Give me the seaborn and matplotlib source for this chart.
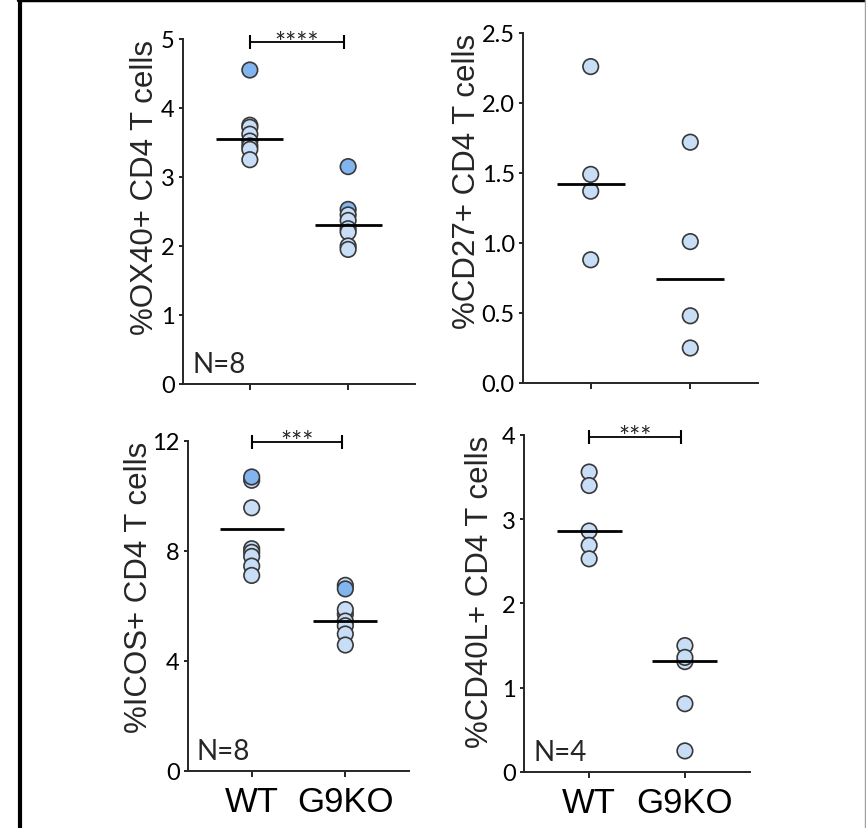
import matplotlib
matplotlib.use("Agg")
import matplotlib.pyplot as plt
from matplotlib.lines import Line2D
import pandas as pd
import seaborn as sns

# groups shown on every panel
groups = ["WT", "G9KO"]

# %OX40+ CD4 T cells (N=8)
ox40_wt = [4.55, 3.75, 3.72, 3.62, 3.52, 3.45, 3.40, 3.25]
ox40_wt_shade = ["dark", "light", "light", "light", "light", "light", "light", "light"]
ox40_ko = [3.15, 2.53, 2.45, 2.37, 2.25, 2.20, 2.00, 1.95]
ox40_ko_shade = ["dark", "dark", "light", "light", "light", "light", "light", "light"]
ox40_lines = [3.55, 2.30]

# %CD27+ CD4 T cells
cd27_wt = [2.26, 1.49, 1.37, 0.88]
cd27_wt_shade = ["light"] * 4
cd27_ko = [1.72, 1.01, 0.48, 0.25]
cd27_ko_shade = ["light"] * 4
cd27_lines = [1.42, 0.74]

# %ICOS+ CD4 T cells (N=8)
icos_wt = [10.57, 10.69, 9.57, 8.08, 7.95, 7.80, 7.45, 7.11]
icos_wt_shade = ["light", "dark", "light", "light", "light", "light", "light", "light"]
icos_ko = [6.75, 6.62, 5.70, 5.87, 5.45, 5.28, 4.98, 4.58]
icos_ko_shade = ["light", "dark", "dark", "light", "light", "light", "light", "light"]
icos_lines = [8.78, 5.47]

# %CD40L+ CD4 T cells (N=4)
cd40l_wt = [3.56, 3.40, 2.86, 2.69, 2.53]
cd40l_wt_shade = ["light"] * 5
cd40l_ko = [1.50, 1.31, 1.36, 0.81, 0.25]
cd40l_ko_shade = ["light"] * 5
cd40l_lines = [2.86, 1.32]

panel_labels = ["%OX40+ CD4 T cells", "%CD27+ CD4 T cells",
                "%ICOS+ CD4 T cells", "%CD40L+ CD4 T cells"]
panel_yticks = [[0, 1, 2, 3, 4, 5], [0.0, 0.5, 1.0, 1.5, 2.0, 2.5],
                [0, 4, 8, 12], [0, 1, 2, 3, 4]]
panel_stars = ["****", None, "***", "***"]
panel_n = ["N=8", None, "N=8", "N=4"]

shade_colors = {"light": "#c8ddf6", "dark": "#82b5f0"}

sns.set_style("ticks")
plt.rcParams["font.family"] = ["Lato", "DejaVu Sans"]
plt.rcParams["axes.linewidth"] = 1.4
label_font = ["Liberation Sans", "DejaVu Sans"]

fig = plt.figure(figsize=(8.66, 8.29), dpi=100)

# axes boxes [left, bottom, width, height] in figure fraction
boxes = [[0.2113, 0.5356, 0.2679, 0.4162],
         [0.6039, 0.5368, 0.2714, 0.4222],
         [0.2171, 0.0688, 0.2552, 0.3981],
         [0.6051, 0.0676, 0.2610, 0.4065]]
label_x = [-0.10, -0.175, -0.155, -0.13]
bar_y = [4.95, 11.96, 3.98]

data = [
    (ox40_wt, ox40_wt_shade, ox40_ko, ox40_ko_shade, ox40_lines),
    (cd27_wt, cd27_wt_shade, cd27_ko, cd27_ko_shade, cd27_lines),
    (icos_wt, icos_wt_shade, icos_ko, icos_ko_shade, icos_lines),
    (cd40l_wt, cd40l_wt_shade, cd40l_ko, cd40l_ko_shade, cd40l_lines),
]

star_i = 0
for i, (wt, wt_sh, ko, ko_sh, lines) in enumerate(data):
    ax = fig.add_axes(boxes[i])
    df = pd.DataFrame({
        "group": [groups[0]] * len(wt) + [groups[1]] * len(ko),
        "value": wt + ko,
        "shade": wt_sh + ko_sh,
    })
    sns.scatterplot(data=df, x="group", y="value", hue="shade",
                    palette=shade_colors, s=125, edgecolor="#383838",
                    linewidth=1.2, legend=False, ax=ax, zorder=3, clip_on=False)

    # centre lines
    for j, v in enumerate(lines):
        ax.hlines(v, j - 0.34, j + 0.34, color="black", lw=2.0, zorder=4)

    yt = panel_yticks[i]
    ax.set_yticks(yt)
    ax.set_ylim(yt[0], yt[-1])
    ax.set_xlim(-0.68, 1.68)
    ax.set_xticks([0, 1])
    ax.set_xlabel("")
    ax.set_ylabel(panel_labels[i], fontsize=22.5, family=label_font, loc="top")
    ax.yaxis.set_label_coords(label_x[i], 1.0)
    ax.tick_params(axis="y", labelsize=17, length=3, width=1.2, pad=3, colors="black")
    ax.tick_params(axis="x", length=4, width=1.2, pad=6, colors="black")
    if i < 2:
        ax.tick_params(axis="x", labelbottom=False)
    else:
        ax.set_xticklabels(groups, fontsize=25, family=label_font)
    sns.despine(ax=ax)

    if panel_stars[i] is not None:
        y = bar_y[star_i]
        star_i += 1
        ax.plot([0, 0.96], [y, y], color="black", lw=1.3, marker="|",
                markersize=9.5, mew=1.5, clip_on=False, zorder=5)
        ax.annotate(panel_stars[i], xy=(0.48, y), xytext=(0, -6),
                    textcoords="offset points", ha="center", va="baseline",
                    fontsize=19, annotation_clip=False)

    if panel_n[i] is not None:
        ax.text(0.04, 0.035, panel_n[i], transform=ax.transAxes,
                fontsize=20, va="baseline", ha="left")

# frame lines around the figure
fig.add_artist(Line2D([0.0231, 0.0231], [0, 1], transform=fig.transFigure,
                      color="black", lw=3))
fig.add_artist(Line2D([0.021, 1], [0.9982, 0.9982], transform=fig.transFigure,
                      color="black", lw=2.5))
fig.add_artist(Line2D([0.9992, 0.9992], [0, 1], transform=fig.transFigure,
                      color="#a0a0a0", lw=1))

fig.savefig("out.png", dpi=100)
